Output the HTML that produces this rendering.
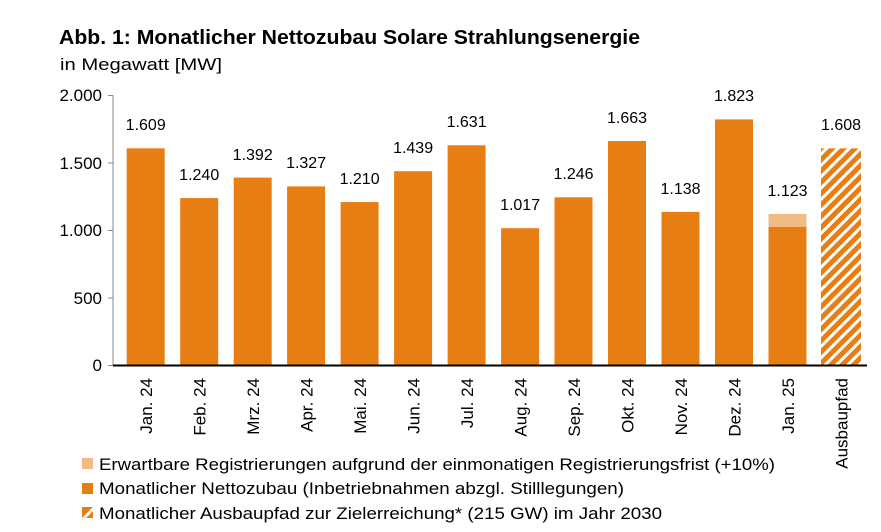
<!DOCTYPE html>
<html><head><meta charset="utf-8"><style>
html,body{margin:0;padding:0;background:#fff;}
svg{display:block;font-family:"Liberation Sans",sans-serif;}
</style></head><body>
<svg width="881" height="532" viewBox="0 0 881 532" xmlns="http://www.w3.org/2000/svg">
<defs>
<pattern id="h" patternUnits="userSpaceOnUse" width="8" height="8" patternTransform="rotate(45)">
<rect width="8" height="8" fill="#e67e14"/>
<rect width="3" height="8" fill="#fff"/>
</pattern>
</defs>
<text x="59" y="44" font-size="20" font-weight="bold" fill="#000" textLength="581" lengthAdjust="spacingAndGlyphs">Abb. 1: Monatlicher Nettozubau Solare Strahlungsenergie</text>
<text x="60" y="70" font-size="17" fill="#000" textLength="162" lengthAdjust="spacingAndGlyphs">in Megawatt [MW]</text>
<g font-size="17" fill="#000" text-anchor="end">
<text x="102" y="101">2.000</text>
<text x="102" y="169">1.500</text>
<text x="102" y="236">1.000</text>
<text x="102" y="304">500</text>
<text x="102" y="371">0</text>
</g>
<g stroke="#888" stroke-width="1">
<line x1="113" y1="95.5" x2="113" y2="365.5"/>
<line x1="108" y1="95.5" x2="113" y2="95.5"/>
<line x1="108" y1="163" x2="113" y2="163"/>
<line x1="108" y1="230.5" x2="113" y2="230.5"/>
<line x1="108" y1="298" x2="113" y2="298"/>
<line x1="108" y1="365.5" x2="113" y2="365.5"/>
</g>
<g fill="#e67e14">
<rect x="126.7" y="148.3" width="38" height="217.2"/>
<rect x="180.2" y="198.1" width="38" height="167.4"/>
<rect x="233.7" y="177.6" width="38" height="187.9"/>
<rect x="287.1" y="186.4" width="38" height="179.1"/>
<rect x="340.6" y="202.1" width="38" height="163.4"/>
<rect x="394.1" y="171.2" width="38" height="194.3"/>
<rect x="447.6" y="145.3" width="38" height="220.2"/>
<rect x="501.1" y="228.2" width="38" height="137.3"/>
<rect x="554.5" y="197.3" width="38" height="168.2"/>
<rect x="608.0" y="141.0" width="38" height="224.5"/>
<rect x="661.5" y="211.9" width="38" height="153.6"/>
<rect x="715.0" y="119.4" width="38" height="246.1"/>
<rect x="768.5" y="226.7" width="38" height="138.8"/>
</g>
<rect x="768.5" y="214" width="38" height="12.7" fill="#f2bb86"/>
<rect x="821" y="148.4" width="40" height="217.1" fill="url(#h)"/>
<line x1="113" y1="365.5" x2="867" y2="365.5" stroke="#000" stroke-width="2"/>
<g font-size="16" fill="#000" text-anchor="middle">
<text x="145.7" y="130">1.609</text>
<text x="199.2" y="180">1.240</text>
<text x="252.7" y="160">1.392</text>
<text x="306.1" y="168">1.327</text>
<text x="359.6" y="184">1.210</text>
<text x="413.1" y="153">1.439</text>
<text x="466.6" y="127">1.631</text>
<text x="520.1" y="210">1.017</text>
<text x="573.5" y="179">1.246</text>
<text x="627.0" y="123">1.663</text>
<text x="680.5" y="194">1.138</text>
<text x="734.0" y="101">1.823</text>
<text x="787.5" y="196">1.123</text>
<text x="841" y="130">1.608</text>
</g>
<g font-size="17" fill="#000" text-anchor="end">
<text transform="translate(152,378) rotate(-90)">Jan. 24</text>
<text transform="translate(205.5,378) rotate(-90)">Feb. 24</text>
<text transform="translate(259,378) rotate(-90)">Mrz. 24</text>
<text transform="translate(312.4,378) rotate(-90)">Apr. 24</text>
<text transform="translate(365.9,378) rotate(-90)">Mai. 24</text>
<text transform="translate(419.4,378) rotate(-90)">Jun. 24</text>
<text transform="translate(472.9,378) rotate(-90)">Jul. 24</text>
<text transform="translate(526.4,378) rotate(-90)">Aug. 24</text>
<text transform="translate(579.8,378) rotate(-90)">Sep. 24</text>
<text transform="translate(633.3,378) rotate(-90)">Okt. 24</text>
<text transform="translate(686.8,378) rotate(-90)">Nov. 24</text>
<text transform="translate(740.3,378) rotate(-90)">Dez. 24</text>
<text transform="translate(793.8,378) rotate(-90)">Jan. 25</text>
<text transform="translate(847.5,378) rotate(-90)">Ausbaupfad</text>
</g>
<rect x="82" y="458" width="11" height="11" fill="#f2bb86"/>
<rect x="82" y="483" width="11" height="11" fill="#e67e14"/>
<rect x="82" y="507" width="11" height="11" fill="#e67e14"/>
<polygon points="82,518 86,518 93,511 93,507" fill="#fff"/>
<g font-size="17" fill="#000">
<text x="99" y="470" textLength="676" lengthAdjust="spacingAndGlyphs">Erwartbare Registrierungen aufgrund der einmonatigen Registrierungsfrist (+10%)</text>
<text x="99" y="494" textLength="525" lengthAdjust="spacingAndGlyphs">Monatlicher Nettozubau (Inbetriebnahmen abzgl. Stilllegungen)</text>
<text x="99" y="519" textLength="563" lengthAdjust="spacingAndGlyphs">Monatlicher Ausbaupfad zur Zielerreichung* (215 GW) im Jahr 2030</text>
</g>
</svg>
</body></html>
